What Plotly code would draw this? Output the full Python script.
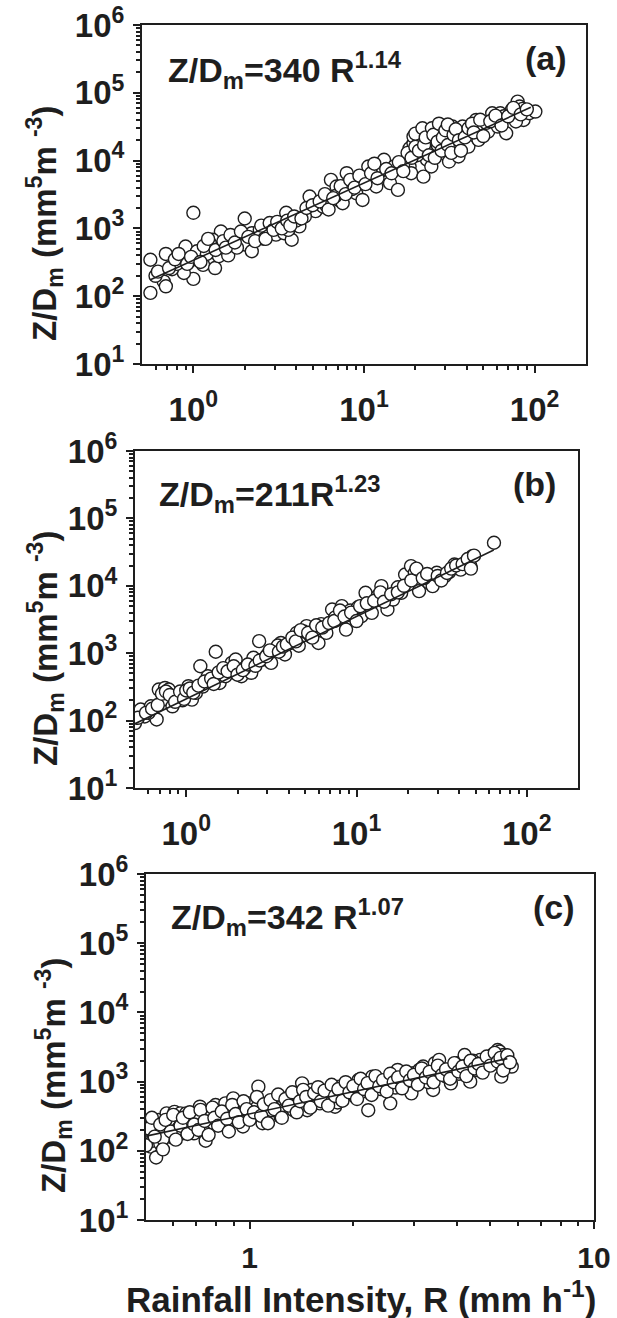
import plotly.graph_objects as go

# ---------------- data ----------------
# Panel (a)
a_R = [0.56, 0.56, 0.69, 0.67, 0.69, 1.0, 1.0, 0.9, 1.05, 0.88, 1.14, 1.34, 1.45, 1.3, 1.57,
       1.41, 1.6, 2.0, 2.0, 2.2, 2.2, 2.45, 2.74, 2.89, 3.05, 3.5, 3.4, 3.77, 4.18, 4.8,
       5.2, 5.76, 6.4, 6.9, 7.1, 7.92, 8.1, 7.5, 9.0, 9.8, 10.6, 10.9, 11.8, 13.1, 14.2,
       15.0, 15.8, 18.5, 18.9, 18.5, 19.5, 19.5, 21.1, 21.7, 22.9, 22.3, 23.4, 24.8, 26.0, 26.6,
       28.2, 28.9, 29.8, 31.5, 32.2, 33.0, 34.9, 35.8, 37.8, 38.7, 40.9, 45.4, 46.9, 49.1, 53.4,
       56.4, 60.9, 62.9, 68.1, 73.5, 79.5, 81.6, 86.1, 93.0, 101, 77.7,
       0.75, 0.8, 0.95, 1.2, 1.25, 1.7, 1.8, 2.6, 3.2, 3.6, 4.0, 4.5, 6.0, 6.8, 8.5,
       12.5, 17.0, 20.5, 24.0, 27.0, 30.5, 36.5, 42.0, 52.0, 58.0, 66.0, 85.0,
       18, 19, 20, 20, 21, 22, 22.5, 23, 24, 25, 25.5, 26, 27, 27.5, 28.5, 29, 30, 31, 31,
       32.5, 33.5, 34.5, 36, 37, 39, 41, 43, 44, 48, 50, 55, 59, 64, 70, 75, 83, 90,
       0.6, 0.62, 0.72, 0.78, 0.82, 0.92, 0.97, 1.1, 1.15, 1.22, 1.35, 1.5, 1.55, 1.65, 1.75,
       1.9, 2.1, 2.3, 2.5, 2.65, 2.8, 2.95, 3.1, 3.3, 3.55, 3.7, 3.9, 4.3, 4.6, 5.0, 5.5,
       5.9, 6.2, 6.6, 7.3, 7.8, 8.3, 8.8, 9.4, 10.2, 11.0, 11.5, 12.0, 13.5, 14.5, 16, 17]
a_Z = [345, 112, 420, 165, 140, 1700, 180, 540, 460, 220, 290, 260, 900, 680, 600,
       390, 400, 1400, 580, 850, 460, 950, 850, 1070, 810, 1700, 850, 680, 1070, 2950,
       1800, 2090, 5200, 4150, 2630, 6520, 4650, 2350, 3300, 2630, 8180, 5200, 4150, 10300, 4650,
       8180, 3700, 8180, 6520, 15200, 18000, 22600, 25300, 20200, 26800, 5800, 10300, 8180, 20200, 16100,
       31800, 25300, 12700, 9690, 20200, 31800, 18000, 11500, 31800, 25300, 16100, 39800, 20200, 31800, 26800,
       49900, 31800, 49900, 25300, 55900, 74200, 62800, 39800, 49900, 52900, 37800,
       250, 300, 330, 420, 600, 700, 520, 700, 1200, 950, 1300, 1500, 2200, 3000, 3800,
       7000, 9000, 12000, 14000, 17000, 22000, 24000, 28000, 36000, 42000, 45000, 58000,
       13000, 11000, 16000, 25000, 14000, 30000, 17000, 22000, 12000, 30000, 24000, 11000, 19000, 35000,
       14000, 22000, 28000, 17000, 34000, 13000, 24000, 29000, 20000, 14000, 22000, 30000, 35000,
       26000, 40000, 23000, 38000, 46000, 33000, 45000, 60000, 48000, 57000,
       200, 230, 260, 350, 420, 300, 380, 320, 550, 700, 480, 650, 520, 800, 620,
       900, 750, 650, 1100, 700, 1200, 950, 1250, 1000, 1300, 1100, 1500, 1400, 2000, 2200, 2500,
       3200, 1900, 2800, 4200, 3200, 5200, 4000, 6000, 4500, 6500, 9000, 5500, 7500, 6500, 9500, 7000]
fit_a_R = [0.56, 95]
fit_a_Z = [175, 61000]

# Panel (b)
b_R = [0.5, 0.54, 0.62, 0.57, 0.67, 0.69, 0.75, 0.79, 0.73, 0.83, 0.9, 1.03, 1.08, 1.14, 1.21,
       1.34, 1.49, 1.57, 1.70, 1.85, 1.95, 2.11, 2.41, 2.48, 2.68, 2.83, 3.15, 3.33, 3.6, 3.8,
       4.11, 4.46, 4.58, 5.09, 5.37, 5.66, 5.98, 6.65, 7.19, 7.8, 8.2, 8.68, 8.9, 9.6, 10.7,
       11.3, 12.3, 13.3, 14.0, 15.2, 16.4, 18.3, 19.3, 20.9, 22.0, 23.9, 23.3, 26.6, 28.0, 29.6,
       33.0, 37.6, 40.9, 44.3, 48.0, 46.7, 64.2,
       0.6, 0.77, 0.95, 1.25, 1.8, 2.2, 3.0, 3.45, 4.3, 4.9, 6.2, 7.5, 9.2, 10.2, 12.8, 17.5, 25.0, 35.0,
       0.52, 0.58, 0.63, 0.68, 0.72, 0.76, 0.8, 0.86, 0.92, 0.97, 1.0, 1.05, 1.1, 1.18, 1.28,
       1.4, 1.45, 1.55, 1.65, 1.75, 1.9, 2.0, 2.15, 2.3, 2.55, 2.7, 2.95, 3.1, 3.5, 3.7,
       3.9, 4.2, 4.4, 4.7, 5.2, 5.5, 5.8, 6.3, 6.9, 7.4, 8.0, 8.5, 9.3, 10.0, 10.5,
       11.5, 12.7, 13.8, 14.5, 16.0, 17.5, 19.0, 21, 22.5, 24.5, 26, 30, 31.5, 34, 36,
       38.5, 42, 45, 47, 49]
b_Z = [92, 146, 163, 115, 104, 289, 305, 289, 205, 163, 230, 324, 205, 258, 641,
       455, 1050, 362, 455, 718, 807, 455, 512, 855, 1510, 807, 718, 1140, 1420, 959,
       1420, 2000, 1290, 2520, 1780, 2240, 1420, 2000, 4450, 3160, 5000, 2240, 3970, 3550, 3550,
       7870, 3970, 7010, 9890, 4450, 6250, 7870, 14700, 19600, 15600, 12400, 8350, 11100, 9890, 15600,
       13900, 20700, 17400, 23300, 27600, 19600, 43500,
       130, 260, 200, 320, 560, 600, 950, 1300, 1700, 2100, 2700, 3400, 4300, 4800, 6000, 9500, 13000, 16000,
       110, 130, 150, 170, 250, 270, 240, 190, 270, 210, 280, 300, 260, 330, 380,
       420, 350, 520, 600, 540, 640, 480, 560, 680, 650, 780, 900, 1100, 1050, 1250,
       1350, 1700, 1500, 2200, 2000, 1700, 2600, 2400, 2800, 3000, 4300, 3500, 4000, 3000, 5000,
       5500, 6000, 8000, 5800, 7500, 8000, 10000, 12000, 18000, 13000, 15000, 14000, 12000, 15500, 18000,
       20000, 21000, 25000, 18000, 28000]
fit_b_R = [0.5, 64]
fit_b_Z = [90, 34000]

# Panel (c)
c_R = [0.51, 0.516, 0.523, 0.535, 0.537, 0.544, 0.55, 0.566, 0.574, 0.59, 0.605, 0.613, 0.629, 0.637, 0.654,
       0.671, 0.689, 0.707, 0.717, 0.736, 0.745, 0.755, 0.786, 0.796, 0.817, 0.85, 0.861, 0.896, 0.92, 0.956,
       0.97, 0.995, 1.02, 1.06, 1.08, 1.09, 1.12, 1.16, 1.19, 1.23, 1.26, 1.31, 1.34, 1.42, 1.44,
       1.47, 1.51, 1.55, 1.6, 1.66, 1.72, 1.77, 1.82, 1.87, 1.94, 2.02, 2.07, 2.13, 2.21, 2.27,
       2.36, 2.46, 2.56, 2.59, 2.69, 2.76, 2.84, 2.95, 2.99, 3.11, 3.19, 3.28, 3.41, 3.45, 3.55,
       3.60, 3.73, 3.84, 3.99, 4.1, 4.21, 4.32, 4.37, 4.55, 4.67, 4.8, 5.0, 5.12, 5.25, 5.32,
       5.38, 5.46, 5.77, 5.53,
       0.52, 0.56, 0.58, 0.62, 0.66, 0.7, 0.76, 0.8, 0.88, 0.94, 1.0, 1.05, 1.14, 1.21, 1.28,
       1.38, 1.5, 1.63, 1.7, 1.8, 1.9, 2.0, 2.1, 2.3, 2.4, 2.52, 2.65, 2.8, 3.0, 3.15,
       3.3, 3.5, 3.7, 3.9, 4.05, 4.25, 4.45, 4.6, 4.9, 5.1, 5.4, 5.6,
       0.5, 0.51, 0.52, 0.53, 0.55, 0.56, 0.57, 0.59, 0.6, 0.61, 0.63, 0.64, 0.66, 0.67, 0.69,
       0.71, 0.72, 0.74, 0.76, 0.78, 0.79, 0.81, 0.83, 0.86, 0.87, 0.89, 0.91, 0.93, 0.96, 0.98,
       1.0, 1.03, 1.05, 1.08, 1.1, 1.13, 1.15, 1.18, 1.21, 1.24, 1.27, 1.3, 1.33, 1.37, 1.4,
       1.43, 1.46, 1.5, 1.54, 1.58, 1.61, 1.65, 1.69, 1.73, 1.77, 1.81, 1.86, 1.9, 1.95, 2.0,
       2.05, 2.1, 2.15, 2.2, 2.26, 2.32, 2.38, 2.44, 2.5, 2.56, 2.62, 2.7, 2.77, 2.85, 2.92,
       3.0, 3.08, 3.16, 3.25, 3.33, 3.42, 3.52, 3.62, 3.72, 3.82, 3.93, 4.04, 4.15, 4.26, 4.38,
       4.5, 4.62, 4.75, 4.88, 5.0, 5.15, 5.25, 5.35, 5.45, 5.6, 5.7]
c_Z = [179, 115, 140, 80, 179, 279, 127, 200, 347, 159, 365, 250, 347, 179, 347,
       250, 179, 311, 434, 225, 140, 179, 250, 459, 311, 485, 250, 573, 311, 225,
       386, 485, 311, 845, 485, 250, 434, 386, 542, 311, 485, 610, 386, 944, 610,
       386, 757, 542, 485, 676, 485, 434, 845, 610, 757, 610, 1054, 845, 386, 1179,
       845, 944, 485, 1054, 1473, 944, 1179, 676, 1319, 1473, 1650, 1179, 757, 1846, 2063,
       1319, 1473, 944, 1846, 1319, 2422, 1650, 998, 1473, 2063, 1650, 2170, 2290, 2860, 2720,
       1179, 2422, 1650, 1740,
       220, 150, 260, 210, 290, 230, 330, 280, 380, 290, 350, 420, 500, 380, 560,
       450, 600, 560, 720, 500, 650, 780, 700, 900, 780, 1100, 820, 1000, 1100, 1250,
       980, 1500, 1200, 1600, 1300, 1700, 2000, 1800, 1900, 2500, 2000, 2200,
       120, 210, 300, 160, 240, 105, 280, 190, 330, 145, 230, 300, 175, 360, 240,
       200, 390, 270, 170, 420, 300, 230, 370, 290, 190, 460, 340, 260, 520, 400,
       280, 360, 600, 320, 470, 250, 540, 400, 650, 300, 560, 450, 700, 360, 520,
       760, 600, 420, 680, 830, 520, 740, 450, 900, 620, 780, 530, 980, 700, 860,
       560, 1100, 780, 950, 640, 1200, 860, 1050, 720, 1300, 980, 1150, 800, 1400, 1050,
       1250, 900, 1550, 1150, 1380, 980, 1700, 1250, 1500, 1100, 1850, 1400, 1650, 1200, 2000,
       1550, 1800, 1350, 2300, 1700, 2600, 1950, 2200, 1450, 2400, 1900]
fit_c_R = [0.5, 5.6]
fit_c_Z = [163, 2150]

# tick labels
y_tickvals = [10, 100, 1000, 10000, 100000, 1000000]
y_ticktext = ["10<sup>1</sup>", "10<sup>2</sup>", "10<sup>3</sup>", "10<sup>4</sup>",
              "10<sup>5</sup>", "10<sup>6</sup>"]
xab_tickvals = [1, 10, 100]
xab_ticktext = ["10<sup>0</sup>", "10<sup>1</sup>", "10<sup>2</sup>"]
xc_tickvals = [1, 10]
xc_ticktext = ["1", "10"]

formulas = ["Z/D<sub>m</sub>=340 R<sup>1.14</sup>",
            "Z/D<sub>m</sub>=211R<sup>1.23</sup>",
            "Z/D<sub>m</sub>=342 R<sup>1.07</sup>"]
panel_labels = ["(a)", "(b)", "(c)"]
y_title = "Z/D<sub>m</sub> (mm<sup>5</sup>m <sup>-3</sup>)"
x_title = "Rainfall Intensity, R (mm h<sup>-1</sup>)"

# ---------------- layout geometry ----------------
W, H = 617, 1318
INK = "#1e1e1e"
FONT = "Liberation Sans, Arial, sans-serif"


def fx(px):
    return px / W


def fy(py):
    return 1 - py / H


# pixel boxes of the three plot areas: (left, right, top, bottom)
boxes = [(142, 586, 25, 364), (135, 578, 451, 788), (146, 594, 874, 1220)]


def minor_vals(lo_exp, hi_exp):
    v = []
    for e in range(lo_exp, hi_exp):
        for m in range(2, 10):
            v.append(m * 10 ** e)
    return v


fig = go.Figure()

series = [(a_R, a_Z, fit_a_R, fit_a_Z), (b_R, b_Z, fit_b_R, fit_b_Z), (c_R, c_Z, fit_c_R, fit_c_Z)]
for i, (R, Z, fR, fZ) in enumerate(series):
    sfx = "" if i == 0 else str(i + 1)
    fig.add_trace(go.Scatter(x=R, y=Z, mode="markers", xaxis="x" + sfx, yaxis="y" + sfx,
                             marker=dict(symbol="circle", size=13, color="white",
                                         line=dict(color=INK, width=1.4)),
                             showlegend=False))
    fig.add_trace(go.Scatter(x=fR, y=fZ, mode="lines", xaxis="x" + sfx, yaxis="y" + sfx,
                             line=dict(color=INK, width=1.6), showlegend=False))

layout = dict(width=W, height=H, margin=dict(l=0, r=0, t=0, b=0),
              paper_bgcolor="white", plot_bgcolor="white", showlegend=False)

tickfont = dict(family=FONT, size=33, color=INK, weight="bold")
annots = []
for i, (l, r, t, b) in enumerate(boxes):
    sfx = "" if i == 0 else str(i + 1)
    if i < 2:
        xr = [-0.30103, 2.30103]
        tv, tt = xab_tickvals, xab_ticktext
        xminor = [0.6, 0.7, 0.8, 0.9] + minor_vals(0, 2)
        xfont = tickfont
        stand = 8
    else:
        xr = [-0.30103, 1.0]
        tv, tt = xc_tickvals, xc_ticktext
        xminor = [0.6, 0.7, 0.8, 0.9] + minor_vals(0, 1)
        xfont = dict(family=FONT, size=30, color=INK, weight="bold")
        stand = 3
    common = dict(showline=True, linewidth=2, linecolor=INK, mirror=True,
                  showgrid=False, zeroline=False, ticks="outside", ticklen=7,
                  tickwidth=2, tickcolor=INK, automargin=False, type="log")
    layout["xaxis" + sfx] = dict(common, domain=[fx(l), fx(r)], range=xr,
                                 anchor="y" + sfx, tickmode="array", tickvals=tv, ticktext=tt,
                                 tickfont=xfont, ticklabelstandoff=stand,
                                 minor=dict(tickmode="array", tickvals=xminor, ticks="outside",
                                            ticklen=4, tickwidth=2, tickcolor=INK))
    layout["yaxis" + sfx] = dict(common, domain=[fy(b), fy(t)], range=[1, 6],
                                 anchor="x" + sfx, tickmode="array", tickvals=y_tickvals,
                                 ticktext=y_ticktext, tickfont=tickfont, ticklabelstandoff=2,
                                 minor=dict(tickmode="array", tickvals=minor_vals(1, 6),
                                            ticks="outside", ticklen=4, tickwidth=2, tickcolor=INK))

# formula annotations
form_pos = [(166, 70), (157, 494), (169, 917)]
for (x, y), txt in zip(form_pos, formulas):
    annots.append(dict(text=txt, x=fx(x), y=fy(y), xref="paper", yref="paper",
                       xanchor="left", yanchor="middle", showarrow=False,
                       font=dict(family=FONT, size=34, color=INK, weight="bold")))
# panel labels
lab_pos = [(569, 58), (558, 484), (577, 907)]
for (x, y), txt in zip(lab_pos, panel_labels):
    annots.append(dict(text=txt, x=fx(x), y=fy(y), xref="paper", yref="paper",
                       xanchor="right", yanchor="middle", showarrow=False,
                       font=dict(family=FONT, size=34, color=INK, weight="bold")))
# y titles
yt_pos = [(44, 224), (45, 649), (53, 1076)]
for (x, y) in yt_pos:
    annots.append(dict(text=y_title, x=fx(x), y=fy(y), xref="paper", yref="paper",
                       xanchor="center", yanchor="middle", textangle=-90, showarrow=False,
                       font=dict(family=FONT, size=33, color=INK, weight="bold")))
# x title
annots.append(dict(text=x_title, x=fx(124), y=fy(1297), xref="paper", yref="paper",
                   xanchor="left", yanchor="middle", showarrow=False,
                   font=dict(family=FONT, size=35, color=INK, weight="bold")))

layout["annotations"] = annots
fig.update_layout(**layout)
fig.write_html("out.html")
